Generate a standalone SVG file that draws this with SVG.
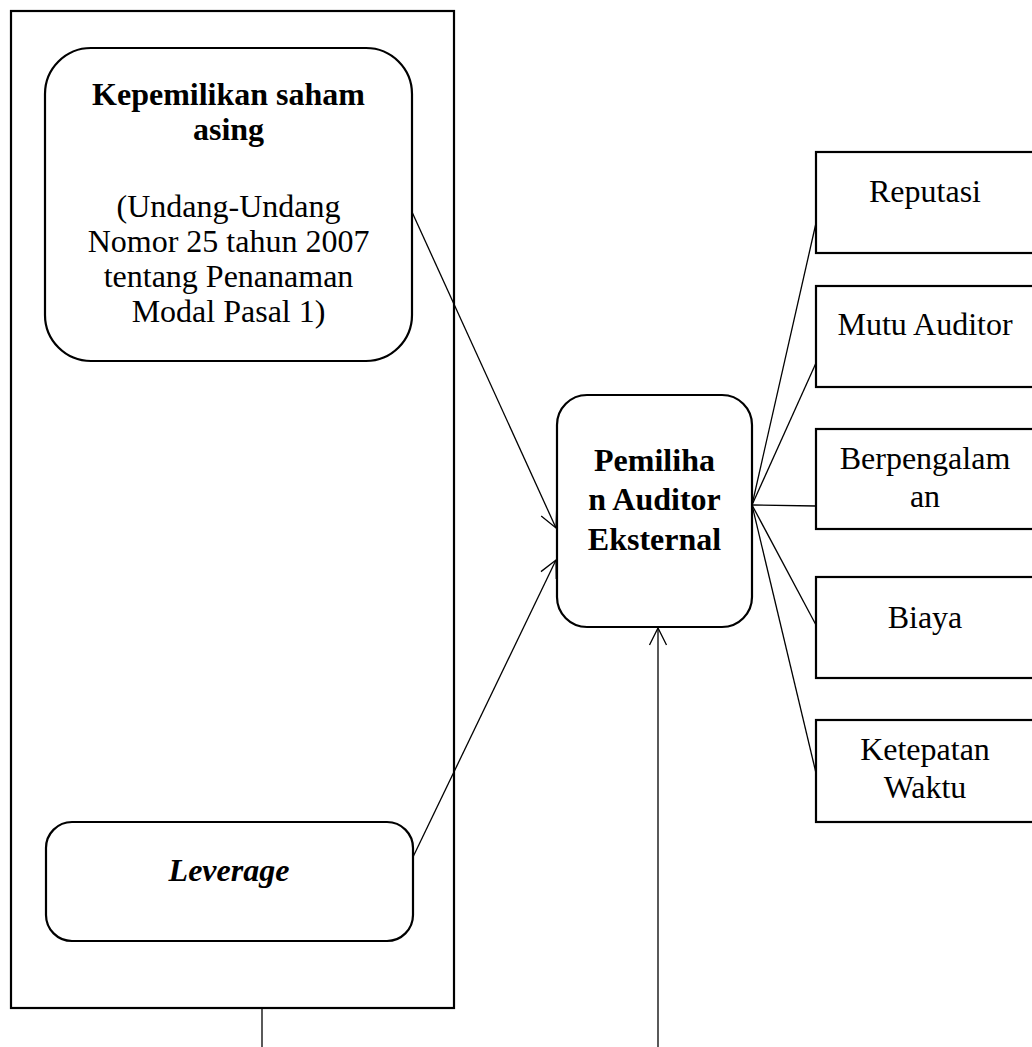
<svg xmlns="http://www.w3.org/2000/svg" width="1032" height="1047" viewBox="0 0 1032 1047">
<style>
.box{fill:#fff;stroke:#000;stroke-width:2.2}
.frame{fill:none;stroke:#000;stroke-width:2.2}
.t{font-family:"Liberation Serif","Times New Roman",serif;font-size:32px;fill:#000;text-anchor:middle}
.b{font-weight:bold}
.bi{font-weight:bold;font-style:italic}
.c{fill:none;stroke:#000;stroke-width:1.3}
</style>
<defs>
<marker id="arr" markerUnits="userSpaceOnUse" markerWidth="40" markerHeight="40" refX="0" refY="0" viewBox="-20 -20 40 40" orient="auto" overflow="visible">
<path d="M -17 -8.5 L 0 0 L -17 8.5" fill="none" stroke="#000" stroke-width="1.3"/>
</marker>
</defs>
<rect width="1032" height="1047" fill="#fff"/>
<g id="frame">
<rect class="frame" x="11" y="11" width="443" height="997"/>
</g>
<g id="kepemilikan">
<rect class="box" x="45" y="48" width="367" height="313" rx="46" ry="46"/>
<text class="t b" x="228.5" y="105">Kepemilikan saham</text>
<text class="t b" x="228.5" y="140">asing</text>
<text class="t" x="228.5" y="217">(Undang-Undang</text>
<text class="t" x="228.5" y="252">Nomor 25 tahun 2007</text>
<text class="t" x="228.5" y="287">tentang Penanaman</text>
<text class="t" x="228.5" y="322">Modal Pasal 1)</text>
</g>
<g id="leverage">
<rect class="box" x="46" y="822" width="367" height="119" rx="26" ry="26"/>
<text class="t bi" x="229" y="881">Leverage</text>
</g>
<g id="pemilihan">
<rect class="box" x="557" y="395" width="195" height="232" rx="30" ry="30"/>
<text class="t b" x="654.5" y="471">Pemiliha</text>
<text class="t b" x="654.5" y="510">n Auditor</text>
<text class="t b" x="654.5" y="550">Eksternal</text>
</g>
<g id="reputasi">
<rect class="box" x="816" y="152" width="222" height="101"/>
<text class="t" x="925" y="202">Reputasi</text>
</g>
<g id="mutu">
<rect class="box" x="816" y="286" width="222" height="101"/>
<text class="t" x="925" y="335">Mutu Auditor</text>
</g>
<g id="berpengalaman">
<rect class="box" x="816" y="429" width="222" height="100"/>
<text class="t" x="925" y="469">Berpengalam</text>
<text class="t" x="925" y="507">an</text>
</g>
<g id="biaya">
<rect class="box" x="816" y="577" width="222" height="101"/>
<text class="t" x="925" y="628">Biaya</text>
</g>
<g id="ketepatan">
<rect class="box" x="816" y="720" width="222" height="102"/>
<text class="t" x="925" y="760">Ketepatan</text>
<text class="t" x="925" y="798">Waktu</text>
</g>
<g id="connectors">
<line class="c" x1="412" y1="212" x2="556" y2="528" marker-end="url(#arr)"/>
<line class="c" x1="413" y1="857" x2="556" y2="560" marker-end="url(#arr)"/>
<line class="c" x1="658" y1="1047" x2="658" y2="628" marker-end="url(#arr)"/>
<line class="c" x1="262" y1="1009" x2="262" y2="1047"/>
<line class="c" x1="752" y1="505" x2="816" y2="223"/>
<line class="c" x1="752" y1="505" x2="816" y2="363"/>
<line class="c" x1="752" y1="505" x2="816" y2="506"/>
<line class="c" x1="752" y1="505" x2="816" y2="625"/>
<line class="c" x1="752" y1="505" x2="816" y2="773"/>
</g>
</svg>
